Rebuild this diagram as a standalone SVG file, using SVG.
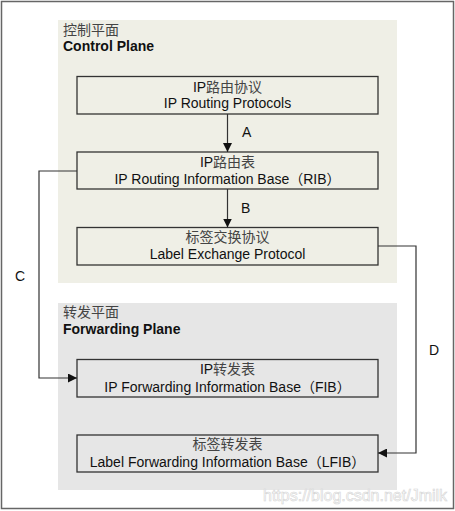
<svg xmlns="http://www.w3.org/2000/svg" width="455" height="511" viewBox="0 0 455 511">
<style>
.t{font-family:"Liberation Sans","Noto Sans CJK SC",Arial,sans-serif;font-size:14px;fill:#111;text-anchor:middle}
.cn{font-family:"Noto Sans CJK SC",sans-serif;fill:#444}
.h{font-family:"Liberation Sans","Noto Sans CJK SC",Arial,sans-serif;font-size:14px;fill:#111}
.b{font-weight:bold}
.box{fill:none;stroke:#333;stroke-width:1.3}
.ln{fill:none;stroke:#333;stroke-width:1.2}
.lbl{font-family:"Liberation Sans",Arial,sans-serif;font-size:14px;fill:#111}
</style>
<defs>
<marker id="ah" viewBox="0 0 10 10" refX="10" refY="5" markerWidth="9" markerHeight="9" markerUnits="userSpaceOnUse" orient="auto">
<path d="M0,0 L10,5 L0,10 z" fill="#111"/>
</marker>
</defs>
<rect x="1.5" y="1.5" width="452" height="507" fill="#fff" stroke="#666" stroke-width="1.5"/>
<g id="control-plane">
<rect x="58" y="20" width="339" height="263" fill="#EFEFE6"/>
<text class="h" x="63" y="35"><tspan class="cn">控制平面</tspan></text>
<text class="h b" x="63" y="51">Control Plane</text>
</g>
<g id="forwarding-plane">
<rect x="58" y="303" width="339" height="187" fill="#E6E6E6"/>
<text class="h" x="63" y="317"><tspan class="cn">转发平面</tspan></text>
<text class="h b" x="63" y="334">Forwarding Plane</text>
</g>
<g id="ip-routing-protocols">
<rect class="box" x="77" y="76.5" width="301" height="37.5"/>
<text class="t" x="227.5" y="92">IP<tspan class="cn">路由协议</tspan></text>
<text class="t" x="227.5" y="107.5">IP Routing Protocols</text>
</g>
<g id="rib">
<rect class="box" x="77" y="152" width="301" height="37"/>
<text class="t" x="227.5" y="167">IP<tspan class="cn">路由表</tspan></text>
<text class="t" x="227.5" y="183.5">IP Routing Information Base（RIB）</text>
</g>
<g id="label-exchange-protocol">
<rect class="box" x="77" y="227.5" width="301" height="37.5"/>
<text class="t" x="227.5" y="242"><tspan class="cn">标签交换协议</tspan></text>
<text class="t" x="227.5" y="258.5">Label Exchange Protocol</text>
</g>
<g id="fib">
<rect class="box" x="77" y="359.5" width="301" height="37.5"/>
<text class="t" x="227.5" y="374">IP<tspan class="cn">转发表</tspan></text>
<text class="t" x="227.5" y="391.5">IP Forwarding Information Base（FIB）</text>
</g>
<g id="lfib">
<rect class="box" x="77" y="435" width="301" height="37"/>
<text class="t" x="227.5" y="449"><tspan class="cn">标签转发表</tspan></text>
<text class="t" x="227.5" y="467">Label Forwarding Information Base（LFIB）</text>
</g>
<g id="connectors">
<path class="ln" d="M227.5,114 V152" marker-end="url(#ah)"/>
<path class="ln" d="M227.5,189 V227.5" marker-end="url(#ah)"/>
<path class="ln" d="M77,171 H39 V378 H77" marker-end="url(#ah)"/>
<path class="ln" d="M378,246 H416 V453 H378" marker-end="url(#ah)"/>
<text class="lbl" x="242" y="137">A</text>
<text class="lbl" x="241" y="213">B</text>
<text class="lbl" x="15" y="281">C</text>
<text class="lbl" x="429" y="355">D</text>
</g>
<text x="263" y="501" style="font-family:'Liberation Sans',Arial,sans-serif;font-size:16px;fill:#fff;stroke:#d4d4d4;stroke-width:0.6">https://blog.csdn.net/Jmilk</text>
</svg>
